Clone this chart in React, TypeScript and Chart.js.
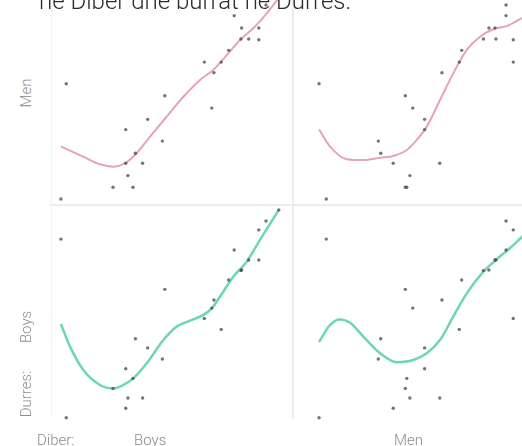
import React, { useEffect, useRef } from "react";
import { Chart, registerables } from "chart.js";

Chart.register(...registerables);

// Observations (unitless, 0-100 panel scale); index i is one observation
const diberBoys = [5.9, 3.7, 45.8, 34.6, 30.6, 37.6, 30.6, 46.8, 25.3, 33.6, 31.5, 66.3, 39.7, 67.2, 70.2, 63.2, 73.3, 78.4, 81.6, 85.8, 78.7, 85.8, 75.6, 88.8, 94.1];
const diberMen = [10.8, 13.8, 35.4, 36.4, 41.6, 60.9, 54.6, 46.6, 46.6, 47.2, 48.5, 49.7, 54.6, 61.8, 69.0, 91.4, 70.0, 79.0, 84.2, 91.4, 81.3, 83.8, 88.4, 88.4, 98.3];
const durresMen = [56.9, 2.8, 30.0, 24.3, 19.6, 19.6, 35.4, 51.3, 8.3, 8.3, 13.8, 45.5, 40.2, 62.1, 67.1, 67.1, 72.6, 77.9, 77.9, 77.6, 83.1, 83.1, 88.9, 93.9, 98.6];
const durresBoys = [0.1, 84.0, 27.7, 37.2, 4.6, 9.4, 23.1, 60.4, 13.9, 18.6, 9.4, 51.6, 32.9, 55.4, 41.6, 46.7, 64.8, 69.2, 74.2, 88.3, 69.5, 74.2, 78.9, 92.5, 97.7];

// Smoothed (loess-like) curves
const tlCurveX = [3.7, 12.9, 19.9, 25.4, 30.3, 35.1, 40.7, 47.6, 54.5, 61.4, 66.9, 72.5, 78.0, 83.5, 89.1, 94.1];
const tlCurveY = [27.5, 22.7, 19.1, 18.0, 19.6, 24.3, 32.1, 41.5, 50.8, 58.7, 63.4, 70.4, 77.5, 83.0, 90.0, 97.2];
const trCurveX = [10.8, 15.4, 22.3, 29.2, 36.1, 41.6, 47.2, 51.3, 55.5, 61.0, 66.5, 72.1, 77.6, 83.1, 88.7, 95.1, 98.3];
const trCurveY = [35.5, 27.4, 21.5, 21.1, 22.2, 23.0, 25.8, 30.5, 36.8, 49.3, 61.8, 72.8, 79.0, 82.5, 84.0, 87.7, 89.2];
const blCurveX = [3.7, 7.5, 13.0, 19.9, 25.4, 29.6, 33.7, 39.3, 46.2, 51.7, 57.3, 62.8, 66.3, 69.7, 75.2, 80.8, 86.3, 94.1];
const blCurveY = [44.1, 33.5, 22.5, 15.5, 13.9, 15.5, 18.6, 25.7, 36.6, 42.9, 45.7, 48.4, 51.5, 56.9, 66.3, 73.4, 83.6, 97.7];
const brCurveX = [10.8, 15.4, 19.5, 23.7, 29.2, 36.1, 43.0, 49.9, 55.5, 61.0, 66.5, 72.1, 79.0, 84.5, 90.0, 95.1, 98.3];
const brCurveY = [35.7, 43.7, 46.3, 44.7, 38.2, 30.4, 26.2, 27.2, 30.4, 36.6, 47.6, 58.5, 68.7, 74.5, 79.7, 85.1, 88.3];

const titleText = "ne Diber dhe burrat ne Durres.";
const rowLabels = ["Men", "Boys"];
const colLabels = ["Boys", "Men"];
const rowVar = "Durres:";
const colVar = "Diber:";

const PINK = "#e6a3b6";
const TEAL = "#6dd6b6";
const PAD = 8;
const PW = 241;
const PH = 213;

type PanelProps = {
  left: number;
  top: number;
  xs: number[];
  ys: number[];
  cx: number[];
  cy: number[];
  color: string;
  width: number;
};

function Panel({ left, top, xs, ys, cx, cy, color, width }: PanelProps) {
  const ref = useRef<HTMLCanvasElement | null>(null);
  useEffect(() => {
    if (!ref.current) return;
    const pts = xs.map((x, i) => ({ x, y: ys[i] }));
    const curve = cx.map((x, i) => ({ x, y: cy[i] }));
    const chart = new Chart(ref.current, {
      type: "scatter",
      data: {
        datasets: [
          {
            data: pts,
            pointRadius: 1.7,
            pointBackgroundColor: "rgba(70,70,70,0.75)",
            pointBorderWidth: 0,
            clip: false as any,
          },
          {
            type: "line",
            data: curve,
            showLine: true,
            pointRadius: 0,
            borderColor: color,
            borderWidth: width,
            cubicInterpolationMode: "monotone",
            fill: false,
            clip: false as any,
          } as any,
        ],
      },
      options: {
        animation: false,
        responsive: false,
        maintainAspectRatio: false,
        devicePixelRatio: 1,
        layout: { padding: PAD },
        plugins: { legend: { display: false }, tooltip: { enabled: false }, title: { display: false } },
        scales: {
          x: { type: "linear", display: false, min: 0, max: 100 },
          y: { type: "linear", display: false, min: 0, max: 100 },
        },
      },
    });
    return () => chart.destroy();
  }, []);
  return (
    <canvas
      ref={ref}
      width={PW + 2 * PAD}
      height={PH + 2 * PAD}
      style={{ position: "absolute", left: left - PAD, top: top - PAD, width: PW + 2 * PAD, height: PH + 2 * PAD }}
    />
  );
}

const labelStyle: React.CSSProperties = {
  position: "absolute",
  fontFamily: "Roboto, 'Open Sans', sans-serif",
  fontWeight: 300,
  fontSize: 15,
  lineHeight: "15px",
  color: "#8c8c8c",
  whiteSpace: "nowrap",
};

function VLabel({ text, x, y }: { text: string; x: number; y: number }) {
  return (
    <div style={{ position: "absolute", left: x, top: y, width: 0, height: 0 }}>
      <div style={{ ...labelStyle, left: 0, top: 0, transform: "translate(-50%, -50%) rotate(-90deg)" }}>{text}</div>
    </div>
  );
}

export default function App() {
  const L = 52, R = 293, T = -8, B = 205;
  return (
    <div style={{ position: "fixed", left: 0, top: 0, width: 522, height: 446, overflow: "hidden", background: "#fff" }}>
      {/* panel separators */}
      <div style={{ position: "absolute", left: 51, top: 0, width: 1, height: 418, background: "#f5f5f5" }} />
      <div style={{ position: "absolute", left: 292, top: 0, width: 2, height: 419, background: "#ededed" }} />
      <div style={{ position: "absolute", left: 50, top: 204, width: 472, height: 2, background: "#ededed" }} />

      <Panel left={L} top={T} xs={diberBoys} ys={durresMen} cx={tlCurveX} cy={tlCurveY} color={PINK} width={2} />
      <Panel left={R} top={T} xs={diberMen} ys={durresMen} cx={trCurveX} cy={trCurveY} color={PINK} width={2} />
      <Panel left={L} top={B} xs={diberBoys} ys={durresBoys} cx={blCurveX} cy={blCurveY} color={TEAL} width={2.5} />
      <Panel left={R} top={B} xs={diberMen} ys={durresBoys} cx={brCurveX} cy={brCurveY} color={TEAL} width={2.5} />

      <div
        style={{
          position: "absolute",
          left: 39,
          top: -11,
          fontFamily: "Roboto, 'Open Sans', sans-serif",
          fontWeight: 300,
          fontSize: 24,
          lineHeight: "24px",
          color: "#2b2b2b",
          whiteSpace: "nowrap",
        }}
      >
        {titleText}
      </div>

      <VLabel text={rowLabels[0]} x={26.3} y={92.5} />
      <VLabel text={rowLabels[1]} x={26.3} y={326.7} />
      <VLabel text={rowVar} x={26.3} y={394} />

      <div style={{ ...labelStyle, left: 37, top: 433 }}>{colVar}</div>
      <div style={{ ...labelStyle, left: 134, top: 433 }}>{colLabels[0]}</div>
      <div style={{ ...labelStyle, left: 394, top: 433 }}>{colLabels[1]}</div>
    </div>
  );
}
